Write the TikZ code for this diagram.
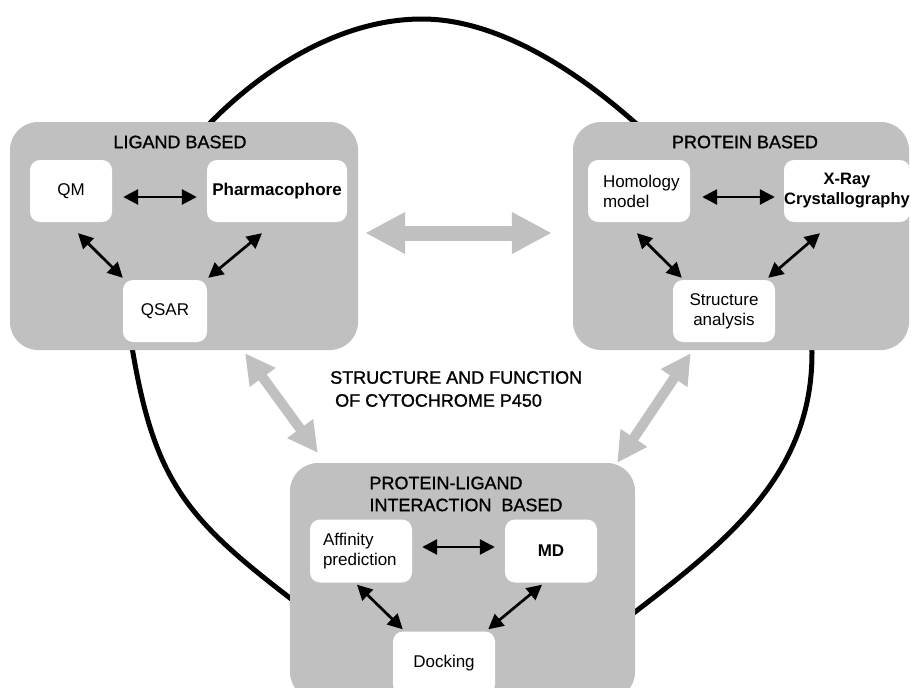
\documentclass[tikz,border=0pt]{standalone}
\usepackage{fontspec}
\setmainfont{Liberation Sans}
\newfontfamily\medfont[FakeBold=1.2]{Liberation Sans}
\usepackage{tikz}
\usetikzlibrary{positioning, arrows.meta, shapes}
\definecolor{gris}{RGB}{192, 192, 192}
\tikzset{
    grp/.style={rectangle, fill=gris, rounded corners=28pt, inner sep=0pt},
    item/.style={rectangle, fill=white, rounded corners=10pt, inner sep=0pt, align=center, font=\fontsize{17}{20}\selectfont},
    itemB/.style={item, font=\fontsize{17}{20}\selectfont\bfseries},
    ttl/.style={inner sep=0pt, font=\fontsize{18}{22}\selectfont\medfont},
    conn/.style={{Triangle[length=15pt, width=15pt]}-{Triangle[length=15pt, width=15pt]}, line width=2.7pt, black},
    wide/.style={{Triangle[length=40pt, width=39pt]}-{Triangle[length=40pt, width=39pt]}, line width=15pt, gris},
    wideS/.style={{Triangle[length=30pt, width=30pt]}-{Triangle[length=30pt, width=30pt]}, line width=10pt, gris},
}

\begin{document}
\begin{tikzpicture}[x=1pt, y=-1pt]
    \useasboundingbox (0,0) rectangle (911,688);

    % ring behind the three groups
    \draw[line width=5pt] (422,19)
        .. controls (502,19) and (583,77) .. (632,120)
        .. controls (681,163) and (812,263) .. (812,353)
        .. controls (812,473) and (730,539) .. (635,612)
        .. controls (540,685) and (393,677) .. (290,598)
        .. controls (187,519) and (155,481) .. (133,353)
        .. controls (122,290) and (149,184) .. (213,120)
        .. controls (266,67) and (342,19) .. cycle;

    % groups
    \node[grp, minimum width=348pt, minimum height=228pt] (lig) at (184,236) {};
    \node[grp, minimum width=336pt, minimum height=228pt] (prot) at (741,236) {};
    \node[grp, minimum width=345pt, minimum height=237pt] (pl) at (462.5,581.5) {};

    \node[ttl] (ligT) at (180,142) {LIGAND BASED};
    \node[ttl] (protT) at (745,142) {PROTEIN BASED};
    \node[ttl, align=left] (plT) at (466,494) {PROTEIN-LIGAND\\INTERACTION~~BASED};
    \node[ttl, align=left, anchor=west, font=\fontsize{18}{23}\selectfont\medfont] (cyp) at (330,389)
        {STRUCTURE AND FUNCTION\\\hspace*{5pt}OF CYTOCHROME P450};

    % ligand based
    \node[item, minimum width=82pt, minimum height=62pt] (qm) at (71,191) {QM};
    \node[itemB, minimum width=140pt, minimum height=62pt] (pharm) at (277,191) {Pharmacophore};
    \node[item, minimum width=84pt, minimum height=62pt] (qsar) at (165,311) {QSAR};

    % protein based
    \node[item, minimum height=62pt, text width=72pt, inner xsep=15pt, align=left] (homol) at (639,191) {Homology\\model};
    \node[itemB, minimum width=126pt, minimum height=62pt, font=\fontsize{16.5}{20}\selectfont\bfseries] (xray) at (847,191) {X-Ray\\Crystallography};
    \node[item, minimum width=102pt, minimum height=62pt] (struct) at (724,311) {Structure\\analysis};

    % protein-ligand interaction based
    \node[item, minimum height=63pt, text width=76pt, inner xsep=13pt, align=left] (affin) at (361,551) {Affinity\\prediction};
    \node[itemB, minimum width=92pt, minimum height=63pt] (md) at (551,551) {MD};
    \node[item, minimum width=102pt, minimum height=63pt] (dock) at (444,663) {Docking};

    \draw[conn] ([shift={(11,6)}]qm.east) -- ([shift={(-10,6)}]pharm.west);
    \draw[conn] ([shift={(7,11)}]qm.south) -- ([shift={(0,-2)}]qsar.north west);
    \draw[conn] ([shift={(-15,11)}]pharm.south) -- ([shift={(1,-2)}]qsar.north east);

    \draw[conn] ([shift={(12,6)}]homol.east) -- ([shift={(-9,6)}]xray.west);
    \draw[conn] ([shift={(-2,11)}]homol.south) -- ([shift={(9,-2)}]struct.north west);
    \draw[conn] ([shift={(-27,11)}]xray.south) -- ([shift={(-7,-2)}]struct.north east);

    \draw[conn] ([shift={(10,-4)}]affin.east) -- ([shift={(-10,-4)}]md.west);
    \draw[conn] ([shift={(-4,2)}]affin.south) -- ([shift={(10,-2)}]dock.north west);
    \draw[conn] ([shift={(-9,2)}]md.south) -- ([shift={(-7,-2)}]dock.north east);

    % links between groups
    \draw[wide] ([shift={(7,-3)}]lig.east) -- ([shift={(-21,-3)}]prot.west);
    \draw[wideS] ([shift={(61,3)}]lig.south) -- ([shift={(28,-10)}]pl.north west);
    \draw[wideS] ([shift={(118,3)}]prot.south west) -- ([shift={(-18,0)}]pl.north east);
\end{tikzpicture}
\end{document}
